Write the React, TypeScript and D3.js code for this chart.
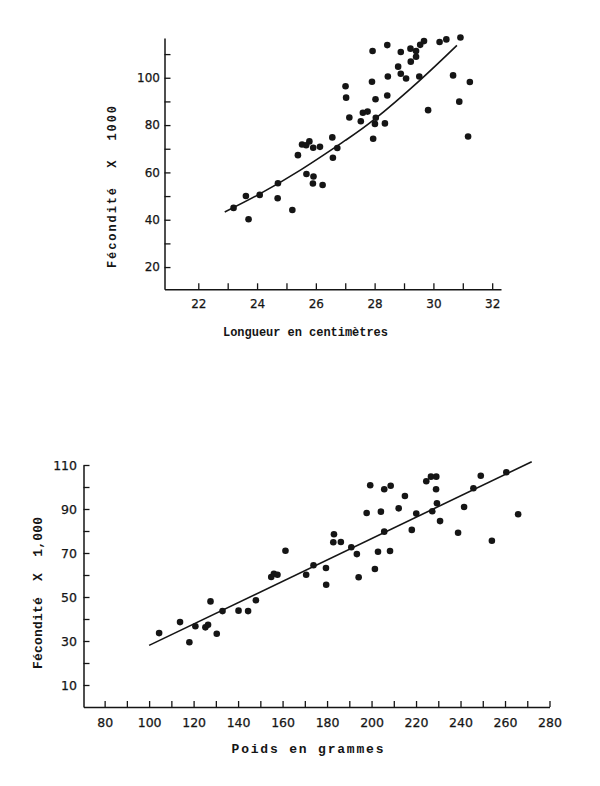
import React, { useRef, useEffect } from "react";
import * as d3 from "d3";

// --- top plot: longueur (cm) / fécondité (x 1000)
const lengthCm = [
  23.62, 24.09, 24.7, 24.71, 25.39, 25.53, 25.67, 25.78, 25.91, 26.14, 26.56, 26.73, 26.58, 25.68,
  25.92, 25.9, 26.23, 27.01, 27.03, 27.14, 27.53, 27.6, 27.76, 28.01, 27.95, 28.04, 28.03, 28.35,
  28.43, 27.91, 27.93, 28.45, 28.43, 28.8, 28.89, 29.07, 28.89, 29.22, 29.23, 29.41, 29.41, 29.52,
  29.55, 29.68, 29.82, 30.21, 30.44, 30.92, 30.67, 30.88, 31.24, 31.18, 23.2, 23.71, 25.2,
];
const fecByLength = [
  50.0, 50.5, 49.1, 55.4, 67.3, 71.8, 71.5, 73.1, 70.4, 70.8, 74.8, 70.3, 66.2, 59.3,
  58.3, 55.3, 54.7, 96.4, 91.6, 83.2, 81.6, 85.2, 85.7, 80.5, 74.2, 83.1, 90.9, 80.7,
  92.5, 98.3, 111.3, 100.5, 113.8, 104.7, 101.7, 99.7, 110.9, 112.3, 106.8, 111.3, 108.9, 100.5,
  113.9, 115.5, 86.3, 115.1, 116.2, 117.0, 101.0, 89.9, 98.2, 75.2, 45.0, 40.2, 44.1,
];
// fitted curve
const curveLength = [22.9, 24, 25.5, 27, 28, 29.5, 30.8];
const curveFec = [43.3, 50.3, 61.2, 73.5, 82.5, 98.5, 113.7];

const lengthTicks = [22, 23, 24, 25, 26, 27, 28, 29, 30, 31, 32];
const lengthLabels = [22, 24, 26, 28, 30, 32];
const fecTicksTop = [20, 30, 40, 50, 60, 70, 80, 90, 100, 110];
const fecLabelsTop = [20, 40, 60, 80, 100];

// --- bottom plot: poids (g) / fécondité (x 1,000)
const weightG = [
  104.5, 113.9, 118.1, 120.8, 125.3, 126.5, 127.6, 130.4, 133.0, 140.2, 144.5, 148.0, 154.9, 156.1,
  157.7, 161.3, 170.6, 173.9, 179.5, 179.6, 182.8, 183.1, 186.2, 190.9, 193.4, 194.2, 197.8, 199.4,
  201.5, 202.9, 204.2, 205.7, 205.7, 208.3, 208.6, 212.2, 215.0, 218.1, 220.1, 224.6, 226.7, 229.1,
  229.0, 227.3, 229.4, 230.8, 238.9, 241.6, 245.8, 249.1, 254.1, 260.6, 265.9,
];
const fecByWeight = [
  33.6, 38.6, 29.4, 36.7, 36.2, 37.4, 48.0, 33.3, 43.6, 43.8, 43.6, 48.5, 59.1, 60.6,
  60.1, 71.0, 60.1, 64.4, 63.2, 55.6, 74.9, 78.5, 75.0, 72.6, 69.5, 59.0, 88.2, 100.8,
  62.7, 70.6, 88.8, 79.7, 99.0, 70.9, 100.6, 90.3, 95.9, 80.5, 87.9, 102.6, 104.7, 104.7,
  99.0, 89.0, 92.6, 84.5, 79.2, 90.9, 99.4, 105.1, 75.6, 106.7, 87.6,
];
const lineWeight = [100, 272];
const lineFec = [28, 111.5];

const weightTicks = [80, 90, 100, 110, 120, 130, 140, 150, 160, 170, 180, 190, 200, 210, 220, 230, 240, 250, 260, 270, 280];
const weightLabels = [80, 100, 120, 140, 160, 180, 200, 220, 240, 260, 280];
const fecTicksBottom = [10, 20, 30, 40, 50, 60, 70, 80, 90, 100, 110];
const fecLabelsBottom = [10, 30, 50, 70, 90, 110];

const ink = "#151515";
const tickFont = "'DejaVu Sans', sans-serif";
const typeFont = "'Liberation Mono', 'DejaVu Sans Mono', monospace";

function drawAxes(svg, x, y, xTicks, xLabels, yTicks, yLabels, fontSize, xPad, yPad) {
  const fmt = (shown) => (d) => (shown.includes(d) ? String(d) : "");
  const gx = svg
    .append("g")
    .attr("transform", `translate(0,${y.range()[0]})`)
    .call(
      d3.axisBottom(x).tickValues(xTicks).tickSizeInner(-6).tickSizeOuter(0)
        .tickPadding(xPad).tickFormat(fmt(xLabels))
    );
  const gy = svg
    .append("g")
    .attr("transform", `translate(${x.range()[0]},0)`)
    .call(
      d3.axisLeft(y).tickValues(yTicks).tickSizeInner(-6).tickSizeOuter(0)
        .tickPadding(yPad).tickFormat(fmt(yLabels))
    );
  [gx, gy].forEach((g) => {
    g.select(".domain").attr("stroke", ink).attr("stroke-width", 1.5);
    g.selectAll(".tick line").attr("stroke", ink).attr("stroke-width", 1.3);
    g.selectAll("text")
      .attr("fill", ink)
      .attr("font-family", tickFont)
      .attr("font-size", fontSize)
      .attr("stroke", ink)
      .attr("stroke-width", 0.25);
  });
}

function title(svg, text, cx, cy, len, size, rotate) {
  svg
    .append("text")
    .attr("transform", `translate(${cx},${cy})${rotate ? " rotate(-90)" : ""}`)
    .attr("text-anchor", "middle")
    .attr("font-family", typeFont)
    .attr("font-weight", "bold")
    .attr("font-size", size)
    .attr("fill", ink)
    .attr("textLength", len)
    .attr("lengthAdjust", "spacing")
    .style("white-space", "pre")
    .text(text);
}

const App = () => {
  const svgRef = useRef(null);

  useEffect(() => {
    const svg = d3.select(svgRef.current);
    svg.selectAll("*").remove();

    // top chart
    const x1 = d3.scaleLinear().domain([20.85, 32.3]).range([164.5, 501]);
    const y1 = d3.scaleLinear().domain([10.6, 116.8]).range([289.3, 38]);
    drawAxes(svg, x1, y1, lengthTicks, lengthLabels, fecTicksTop, fecLabelsTop, 12, 10.5, 4.5);

    const curve = d3
      .line()
      .x((d) => x1(d[0]))
      .y((d) => y1(d[1]))
      .curve(d3.curveNatural);
    svg
      .append("path")
      .attr("d", curve(d3.zip(curveLength, curveFec)))
      .attr("fill", "none")
      .attr("stroke", ink)
      .attr("stroke-width", 1.6);

    svg
      .append("g")
      .selectAll("circle")
      .data(d3.zip(lengthCm, fecByLength))
      .join("circle")
      .attr("cx", (d) => x1(d[0]))
      .attr("cy", (d) => y1(d[1]))
      .attr("r", 3.3)
      .attr("fill", ink);

    title(svg, "Longueur en centimètres", 305.5, 336, 165, 12, false);
    title(svg, "Fécondité  X  1000", 116, 187, 162, 12, true);

    // bottom chart
    const x2 = d3.scaleLinear().domain([70.5, 280]).range([83.5, 549.5]);
    const y2 = d3.scaleLinear().domain([0, 110]).range([707, 465]);
    drawAxes(svg, x2, y2, weightTicks, weightLabels, fecTicksBottom, fecLabelsBottom, 12.5, 11, 6.5);

    const straight = d3
      .line()
      .x((d) => x2(d[0]))
      .y((d) => y2(d[1]));
    svg
      .append("path")
      .attr("d", straight(d3.zip(lineWeight, lineFec)))
      .attr("fill", "none")
      .attr("stroke", ink)
      .attr("stroke-width", 1.6);

    svg
      .append("g")
      .selectAll("circle")
      .data(d3.zip(weightG, fecByWeight))
      .join("circle")
      .attr("cx", (d) => x2(d[0]))
      .attr("cy", (d) => y2(d[1]))
      .attr("r", 3.3)
      .attr("fill", ink);

    title(svg, "Poids en grammes", 307.5, 753, 152, 13, false);
    title(svg, "Fécondité  X  1,000", 42, 593, 152, 13, true);
  }, []);

  return (
    <svg
      ref={svgRef}
      width={600}
      height={786}
      style={{ position: "absolute", left: 0, top: 0, background: "#fff" }}
    ></svg>
  );
};

export default App;
